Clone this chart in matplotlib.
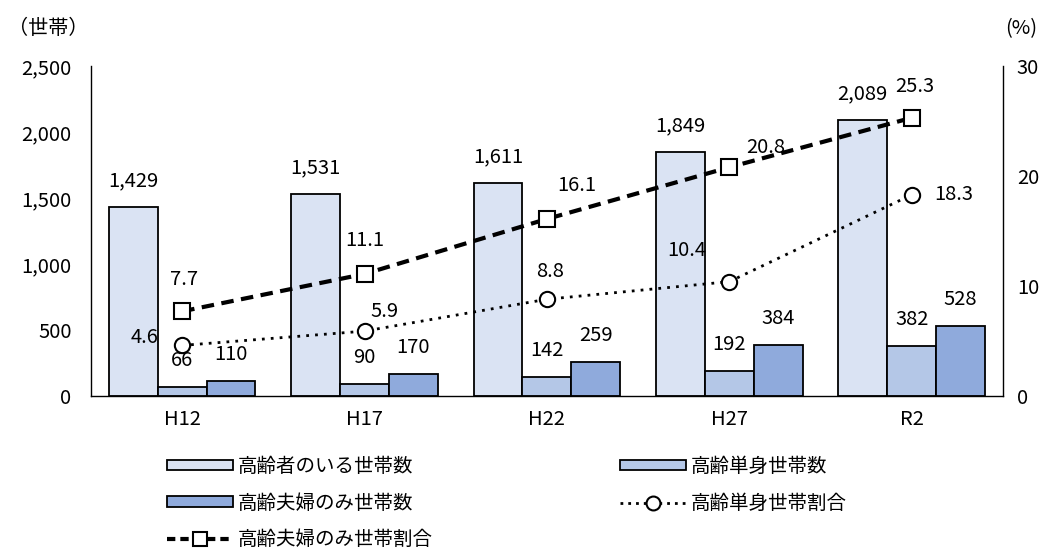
import matplotlib
matplotlib.use("Agg")
import matplotlib.pyplot as plt
import numpy as np
from matplotlib.lines import Line2D
from matplotlib.patches import Patch

plt.rcParams['font.family'] = ['Noto Sans CJK JP', 'DejaVu Sans']

categories = ["H12", "H17", "H22", "H27", "R2"]
households_elderly = [1429, 1531, 1611, 1849, 2089]
households_single = [66, 90, 142, 192, 382]
households_couple = [110, 170, 259, 384, 528]
ratio_single = [4.6, 5.9, 8.8, 10.4, 18.3]
ratio_couple = [7.7, 11.1, 16.1, 20.8, 25.3]

series_names = ["高齢者のいる世帯数", "高齢単身世帯数", "高齢夫婦のみ世帯数",
                "高齢単身世帯割合", "高齢夫婦のみ世帯割合"]
bar_colors = ["#DAE3F3", "#B4C7E7", "#8FAADC"]

FS = 14.5
PX = 72 / 100  # points per pixel

fig = plt.figure(figsize=(10.53, 5.51), dpi=100)
ax = fig.add_axes([0.0864, 0.2813, 0.866, 0.5987])
ax2 = ax.twinx()

x = np.arange(len(categories))
w = 0.268
bar_sets = [households_elderly, households_single, households_couple]
for i, vals in enumerate(bar_sets):
    xs = x + (i - 1) * w
    ax.bar(xs, vals, width=w, color=bar_colors[i], edgecolor="black", linewidth=1.3, zorder=2)
    for xi, v in zip(xs, vals):
        ax.annotate(f"{v:,}", (xi, v), xytext=(0, 16 * PX), textcoords="offset points",
                    ha="center", va="bottom", fontsize=FS)

ax.set_xlim(-0.5, len(categories) - 0.5)
ax.set_ylim(0, 2500)
ax.set_yticks(np.arange(0, 2501, 500))
ax.set_yticklabels([f"{v:,}" for v in range(0, 2501, 500)])
ax.set_xticks(x)
ax.set_xticklabels(categories)

ax2.plot(x, ratio_single, linestyle=(0, (1, 2.2)), color="black", linewidth=2,
         marker="o", markersize=11, markerfacecolor="white", markeredgecolor="black",
         markeredgewidth=1.5, zorder=3)
ax2.plot(x, ratio_couple, linestyle=(0, (3, 1.8)), color="black", linewidth=3,
         marker="s", markersize=11, markerfacecolor="white", markeredgecolor="black",
         markeredgewidth=1.5, zorder=3)
ax2.set_ylim(0, 30)
ax2.set_yticks([0, 10, 20, 30])

# label offsets (pixels) for each ratio point
single_off = [(-38, 8), (20, 20), (3, 28), (-43, 31), (42, 0)]
couple_off = [(2, 32), (0, 33), (30, 33), (36, 20), (3, 31)]
for xi, v, (dx, dy) in zip(x, ratio_single, single_off):
    ax2.annotate(f"{v}", (xi, v), xytext=(dx * PX, dy * PX), textcoords="offset points",
                 ha="center", va="center", fontsize=FS)
for xi, v, (dx, dy) in zip(x, ratio_couple, couple_off):
    ax2.annotate(f"{v}", (xi, v), xytext=(dx * PX, dy * PX), textcoords="offset points",
                 ha="center", va="center", fontsize=FS)

for a in (ax, ax2):
    a.spines["top"].set_visible(False)
    a.tick_params(length=0, labelsize=FS)
    for s in a.spines.values():
        s.set_linewidth(1.0)
ax.spines["right"].set_visible(False)
ax2.spines["left"].set_visible(False)
ax2.spines["bottom"].set_visible(False)
ax.tick_params(axis="y", pad=14)
ax.tick_params(axis="x", pad=9)
ax2.tick_params(axis="y", pad=10)

fig.text(0.008, 0.948, "（世帯）", fontsize=FS, ha="left", va="center")
fig.text(0.985, 0.948, "(%)", fontsize=FS, ha="right", va="center")

LFS = 14
handles = [
    Patch(facecolor=bar_colors[0], edgecolor="black", linewidth=1.3),
    Patch(facecolor=bar_colors[2], edgecolor="black", linewidth=1.3),
    Line2D([0], [0], linestyle=(0, (2, 1.2)), color="black", linewidth=3, marker="s",
           markersize=10, markerfacecolor="white", markeredgecolor="black", markeredgewidth=1.5),
    Patch(facecolor=bar_colors[1], edgecolor="black", linewidth=1.3),
    Line2D([0], [0], linestyle=(0, (1, 1.8)), color="black", linewidth=2, marker="o",
           markersize=10, markerfacecolor="white", markeredgecolor="black", markeredgewidth=1.5),
]
labels = [series_names[0], series_names[2], series_names[4], series_names[1], series_names[3]]
fig.legend(handles, labels, loc="upper left", bbox_to_anchor=(0.1495, 0.19), ncol=2,
           frameon=False, fontsize=LFS, handlelength=3.4, handleheight=0.45,
           columnspacing=9.6, labelspacing=0.8, handletextpad=0.25, borderpad=0)

fig.savefig("out.png", dpi=100)
